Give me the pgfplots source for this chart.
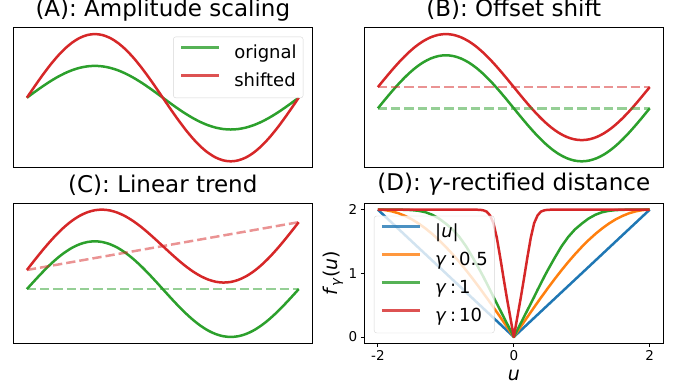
\documentclass[border=0pt]{standalone}
\usepackage{fontspec}
\setmainfont{DejaVu Sans}
\usepackage{pgfplots}
\pgfplotsset{compat=1.18}
\usepackage{pgfplotstable}

\definecolor{tabblue}{HTML}{1F77B4}
\definecolor{taborange}{HTML}{FF7F0E}
\definecolor{tabgreen}{HTML}{2CA02C}
\definecolor{tabred}{HTML}{D62728}

\pgfplotstableread{
x s a b c
0 0 0 0.4 0.4
10 0.1736 0.3473 0.5736 0.6014
20 0.3420 0.6840 0.7420 0.7976
30 0.5 1.0 0.9 0.9833
40 0.6428 1.2856 1.0428 1.1539
50 0.7660 1.5321 1.1660 1.3049
60 0.8660 1.7321 1.2660 1.4327
70 0.9397 1.8794 1.3397 1.5341
80 0.9848 1.9696 1.3848 1.6070
90 1 2 1.4 1.65
100 0.9848 1.9696 1.3848 1.6626
110 0.9397 1.8794 1.3397 1.6453
120 0.8660 1.7321 1.2660 1.5993
130 0.7660 1.5321 1.1660 1.5271
140 0.6428 1.2856 1.0428 1.4317
150 0.5 1.0 0.9 1.3167
160 0.3420 0.6840 0.7420 1.1864
170 0.1736 0.3473 0.5736 1.0458
180 0 0 0.4 0.9
190 -0.1736 -0.3473 0.2264 0.7542
200 -0.3420 -0.6840 0.0580 0.6136
210 -0.5 -1.0 -0.1 0.4833
220 -0.6428 -1.2856 -0.2428 0.3683
230 -0.7660 -1.5321 -0.3660 0.2729
240 -0.8660 -1.7321 -0.4660 0.2007
250 -0.9397 -1.8794 -0.5397 0.1547
260 -0.9848 -1.9696 -0.5848 0.1374
270 -1 -2 -0.6 0.15
280 -0.9848 -1.9696 -0.5848 0.1930
290 -0.9397 -1.8794 -0.5397 0.2659
300 -0.8660 -1.7321 -0.4660 0.3673
310 -0.7660 -1.5321 -0.3660 0.4951
320 -0.6428 -1.2856 -0.2428 0.6461
330 -0.5 -1.0 -0.1 0.8167
340 -0.3420 -0.6840 0.0580 1.0024
350 -0.1736 -0.3473 0.2264 1.1986
360 0 0 0.4 1.4
}\sinetable

\pgfplotstableread{
u abs g05 g1 g10
-2.0 2.0 2.000 2.000 2.0
-1.9 1.9 1.994 2.000 2.0
-1.8 1.8 1.975 2.000 2.0
-1.7 1.7 1.945 2.000 2.0
-1.6 1.6 1.902 1.998 2.0
-1.5 1.5 1.848 1.993 2.0
-1.4 1.4 1.782 1.982 2.0
-1.3 1.3 1.705 1.960 2.0
-1.2 1.2 1.618 1.920 2.0
-1.1 1.1 1.521 1.860 2.0
-1.0 1.0 1.414 1.780 2.0
-0.9 0.9 1.299 1.690 2.0
-0.8 0.8 1.176 1.570 2.0
-0.7 0.7 1.045 1.420 2.0
-0.6 0.6 0.908 1.240 2.0
-0.5 0.5 0.765 1.050 1.998
-0.45 0.45 0.691 0.950 1.990
-0.4 0.4 0.618 0.845 1.970
-0.35 0.35 0.543 0.740 1.910
-0.3 0.3 0.467 0.630 1.790
-0.25 0.25 0.390 0.525 1.560
-0.2 0.2 0.313 0.420 1.250
-0.15 0.15 0.235 0.315 0.920
-0.1 0.1 0.157 0.210 0.600
-0.05 0.05 0.079 0.105 0.300
0 0 0 0 0
0.05 0.05 0.079 0.105 0.300
0.1 0.1 0.157 0.210 0.600
0.15 0.15 0.235 0.315 0.920
0.2 0.2 0.313 0.420 1.250
0.25 0.25 0.390 0.525 1.560
0.3 0.3 0.467 0.630 1.790
0.35 0.35 0.543 0.740 1.910
0.4 0.4 0.618 0.845 1.970
0.45 0.45 0.691 0.950 1.990
0.5 0.5 0.765 1.050 1.998
0.6 0.6 0.908 1.240 2.0
0.7 0.7 1.045 1.420 2.0
0.8 0.8 1.176 1.570 2.0
0.9 0.9 1.299 1.690 2.0
1.0 1.0 1.414 1.780 2.0
1.1 1.1 1.521 1.860 2.0
1.2 1.2 1.618 1.920 2.0
1.3 1.3 1.705 1.960 2.0
1.4 1.4 1.782 1.982 2.0
1.5 1.5 1.848 1.993 2.0
1.6 1.6 1.902 1.998 2.0
1.7 1.7 1.945 2.000 2.0
1.8 1.8 1.975 2.000 2.0
1.9 1.9 1.994 2.000 2.0
2.0 2.0 2.000 2.000 2.0
}\rectable

\pgfplotsset{
  panel/.style={
    scale only axis, width=299pt, height=140pt, anchor=south west,
    axis line style={line width=0.8pt, black},
    title style={font=\fontsize{23}{27}\selectfont, at={(0.5,1)}, anchor=base, yshift=5pt},
    legend cell align=left,
    legend image code/.code={\draw[##1, line width=2.5pt] (0pt,6pt) -- (38pt,6pt); \path (0pt,0pt) (52pt,0pt);},
    legend style={draw=black!20, draw opacity=0.8, rounded corners=2.5pt, fill=white, fill opacity=0.8, text opacity=1,
      font=\fontsize{18}{21.6}\selectfont, inner xsep=6.5pt, inner ysep=8pt, row sep=11pt,
      nodes={inner sep=0pt, text height=13.5pt, text depth=3.5pt}},
  },
  sol/.style={line width=2.5pt, line join=round},
  dsh/.style={line width=2.5pt, dash pattern=on 9.3pt off 4pt, opacity=0.5},
}

\begin{document}
\begin{tikzpicture}[x=1pt,y=1pt]
\useasboundingbox (0,0) rectangle (677,388);

% (A)
\begin{axis}[panel, ticks=none, at={(13.3pt,220.3pt)},
  xmin=-18, xmax=378, ymin=-2.2, ymax=2.2,
  title={(A): Amplitude scaling},
  legend style={at={(0.970,0.936)}, anchor=north east}]
\addplot[sol, tabgreen, smooth] table[x=x, y=s] {\sinetable};
\addlegendentry{orignal}
\addplot[sol, tabred, smooth] table[x=x, y=a] {\sinetable};
\addlegendentry{shifted}
\end{axis}

% (B)
\begin{axis}[panel, ticks=none, at={(364.3pt,220.3pt)},
  xmin=-18, xmax=378, ymin=-1.12, ymax=1.52,
  title={(B): Offset shift}]
\addplot[sol, tabgreen, smooth] table[x=x, y=s] {\sinetable};
\addplot[sol, tabred, smooth] table[x=x, y=b] {\sinetable};
\addplot[dsh, tabgreen] coordinates {(0,0) (360,0)};
\addplot[dsh, tabred] coordinates {(0,0.4) (360,0.4)};
\end{axis}

% (C)
\begin{axis}[panel, ticks=none, at={(13.3pt,44.7pt)},
  xmin=-18, xmax=378, ymin=-1.133, ymax=1.795,
  title={(C): Linear trend}]
\addplot[sol, tabgreen, smooth] table[x=x, y=s] {\sinetable};
\addplot[sol, tabred, smooth] table[x=x, y=c] {\sinetable};
\addplot[dsh, tabgreen] coordinates {(0,0) (360,0)};
\addplot[dsh, tabred] coordinates {(0,0.4) (360,1.4)};
\end{axis}

% (D)
\begin{axis}[panel, at={(364.3pt,44.7pt)},
  xmin=-2.2, xmax=2.2, ymin=-0.1, ymax=2.1,
  title={(D): \textit{γ}-rectified distance},
  title style={yshift=1.5pt},
  xtick={-2,0,2}, xticklabels={-2,0,2},
  ytick={0,1,2}, yticklabels={0,1,2},
  xtick pos=bottom, ytick pos=left,
  tick align=outside, major tick length=3.5pt,
  tick style={black, line width=0.8pt},
  ticklabel style={font=\fontsize{13.5}{16}\selectfont},
  xlabel={\textit{u}},
  ylabel={\textit{f}\textsubscript{\textit{γ}}(\textit{u})},
  label style={font=\fontsize{19}{23}\selectfont},
  xlabel style={at={(axis description cs:0.5,0)}, anchor=base, yshift=-37.5pt},
  ylabel style={at={(axis description cs:0,0.5)}, anchor=center, yshift=31pt},
  legend style={at={(0.0324,0.911)}, anchor=north west}]
\addplot[sol, tabblue] table[x=u, y=abs] {\rectable};
\addlegendentry{|\textit{u}|}
\addplot[sol, taborange] table[x=u, y=g05] {\rectable};
\addlegendentry{\textit{γ}\hspace{3.5pt}:\hspace{3pt}0.5}
\addplot[sol, tabgreen] table[x=u, y=g1] {\rectable};
\addlegendentry{\textit{γ}\hspace{3.5pt}:\hspace{3pt}1}
\addplot[sol, tabred] table[x=u, y=g10] {\rectable};
\addlegendentry{\textit{γ}\hspace{3.5pt}:\hspace{3pt}10}
\end{axis}
\end{tikzpicture}
\end{document}
